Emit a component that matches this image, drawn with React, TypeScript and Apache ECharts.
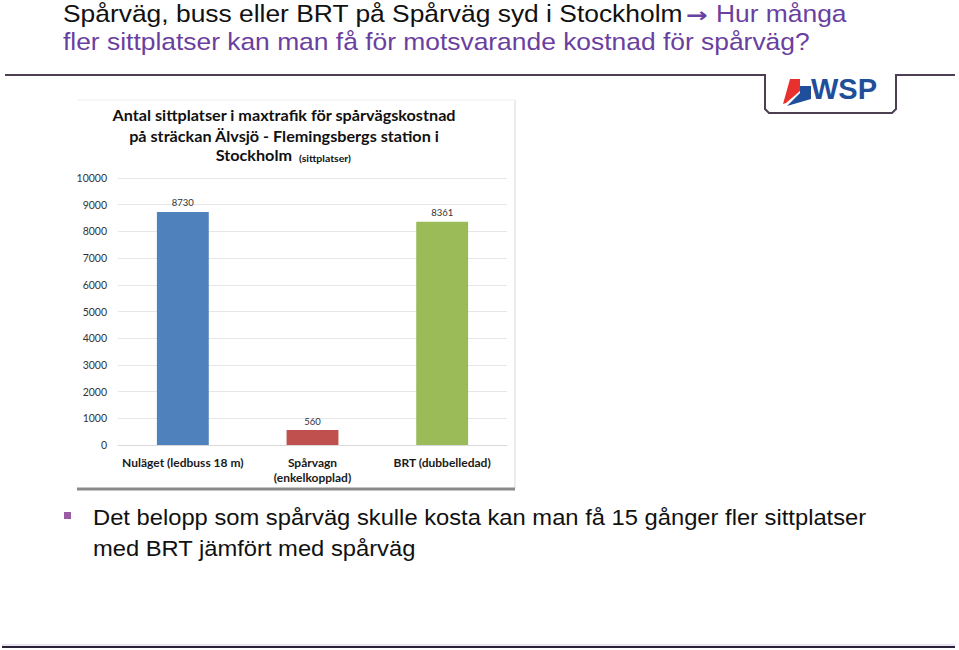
import React, { useEffect, useRef } from "react";
import * as echarts from "echarts";

const categories = ["Nuläget (ledbuss 18 m)", "Spårvagn\n(enkelkopplad)", "BRT (dubbelledad)"];
const seats = [8730, 560, 8361];
const barColors = ["#4F81BD", "#C0504D", "#9BBB59"];
const yTicks = { min: 0, max: 10000, interval: 1000 };

const slideTitle1 = "Spårväg, buss eller BRT på Spårväg syd i Stockholm";
const slideArrow = "→";
const slideTitle1b = "Hur många";
const slideTitle2 = "fler sittplatser kan man få för motsvarande kostnad för spårväg?";
const chartTitle = "Antal sittplatser i maxtrafik för spårvägskostnad\npå sträckan Älvsjö - Flemingsbergs station i";
const chartTitle3 = "Stockholm";
const chartTitle3b = "(sittplatser)";
const bullet1 = "Det belopp som spårväg skulle kosta kan man få 15 gånger fler sittplatser";
const bullet2 = "med BRT jämfört med spårväg";

const PURPLE = "#6B3FA0";
const LINE = "#4d3f52";

export default function App() {
  const ref = useRef<HTMLDivElement>(null);
  useEffect(() => {
    if (!ref.current) return;
    const chart = echarts.init(ref.current, null, { renderer: "svg" });
    chart.setOption({
      animation: false,
      backgroundColor: "#ffffff",
      grid: { left: 118, right: 452, top: 178, bottom: 205, containLabel: false },
      xAxis: {
        type: "category",
        data: categories,
        axisLine: { lineStyle: { color: "#d9d9d9", width: 1 } },
        axisTick: { show: false },
        axisLabel: {
          interval: 0,
          color: "#1a1a1a",
          fontFamily: "Lato",
          fontWeight: "bold",
          fontSize: 12,
          lineHeight: 15,
          margin: 10,
        },
      },
      yAxis: {
        type: "value",
        min: yTicks.min,
        max: yTicks.max,
        interval: yTicks.interval,
        axisLine: { show: false },
        axisTick: { show: false },
        splitLine: { lineStyle: { color: "#e6e6e6", width: 1 } },
        axisLabel: {
          color: "#333",
          fontFamily: "Lato",
          fontSize: 10.5,
          margin: 11,
          formatter: (v: number) => String(v),
        },
      },
      series: [
        {
          type: "bar",
          barWidth: "40%",
          data: seats.map((v, i) => ({ value: v, itemStyle: { color: barColors[i] } })),
          label: {
            show: true,
            position: "top",
            distance: 4,
            color: "#333",
            fontFamily: "Lato",
            fontSize: 9.5,
            formatter: (p: any) => String(p.value),
          },
        },
      ],
      graphic: [
        // slide title
        {
          type: "text",
          x: 63,
          y: 1,
          scaleX: 1.1,
          style: { text: slideTitle1, fontFamily: "Liberation Sans", fontSize: 24, fill: "#111" },
        },
        {
          type: "text",
          x: 697,
          y: 15,
          scaleX: 1.3,
          style: {
            text: slideArrow,
            align: "center",
            verticalAlign: "middle",
            fontFamily: "DejaVu Sans",
            fontWeight: "bold",
            fontSize: 20,
            fill: PURPLE,
          },
        },
        {
          type: "text",
          x: 716,
          y: 1,
          scaleX: 1.1,
          style: { text: slideTitle1b, fontFamily: "Liberation Sans", fontSize: 24, fill: PURPLE },
        },
        {
          type: "text",
          x: 63,
          y: 29,
          scaleX: 1.1,
          style: { text: slideTitle2, fontFamily: "Liberation Sans", fontSize: 24, fill: PURPLE },
        },
        // header rule with logo tab
        {
          type: "polyline",
          shape: {
            points: [
              [5, 75],
              [765, 75],
              [765, 109],
              [769, 113],
              [892, 113],
              [896, 109],
              [896, 75],
              [955, 75],
            ],
          },
          style: { stroke: LINE, lineWidth: 2, fill: null },
        },
        // WSP logo
        {
          type: "polygon",
          shape: { points: [[790, 79], [800, 79], [800, 91], [786, 103], [783, 104]] },
          style: { fill: "#E8312F" },
        },
        {
          type: "polygon",
          shape: { points: [[800, 86], [811, 86], [811, 99], [787, 106], [800, 93]] },
          style: { fill: "#1F4E9A" },
        },
        {
          type: "text",
          x: 811,
          y: 74,
          style: { text: "WSP", fontFamily: "Liberation Sans", fontWeight: "bold", fontSize: 29, fill: "#1F4E9A" },
        },
        // chart image frame
        {
          type: "line",
          shape: { x1: 77, y1: 100, x2: 515, y2: 100 },
          style: { stroke: "#eeeeee", lineWidth: 1 },
        },
        {
          type: "line",
          shape: { x1: 515, y1: 100, x2: 515, y2: 488 },
          style: { stroke: "#e6e6e6", lineWidth: 1.5 },
        },
        {
          type: "line",
          shape: { x1: 77, y1: 489, x2: 515, y2: 489 },
          style: { stroke: "#8a8a8a", lineWidth: 3 },
        },
        // chart title
        {
          type: "text",
          x: 284,
          y: 105,
          scaleX: 1.08,
          style: {
            text: chartTitle,
            align: "center",
            fontFamily: "Lato",
            fontWeight: "bold",
            fontSize: 15,
            lineHeight: 21,
            fill: "#111",
          },
        },
        {
          type: "text",
          x: 292,
          y: 148,
          scaleX: 1.08,
          style: {
            text: chartTitle3,
            align: "right",
            fontFamily: "Lato",
            fontWeight: "bold",
            fontSize: 15,
            fill: "#111",
          },
        },
        {
          type: "text",
          x: 299,
          y: 153,
          scaleX: 1.05,
          style: {
            text: chartTitle3b,
            fontFamily: "Lato",
            fontWeight: "bold",
            fontSize: 10,
            fill: "#111",
          },
        },
        // bullet
        {
          type: "rect",
          shape: { x: 64, y: 512, width: 7, height: 7 },
          style: { fill: "#9B5BA5" },
        },
        {
          type: "text",
          x: 93,
          y: 502,
          scaleX: 1.08,
          style: {
            text: bullet1 + "\n" + bullet2,
            fontFamily: "Liberation Sans",
            fontSize: 22,
            lineHeight: 31,
            fill: "#111",
          },
        },
        // bottom rule
        {
          type: "line",
          shape: { x1: 2, y1: 645, x2: 955, y2: 645 },
          style: { stroke: "#d9c9e6", lineWidth: 1 },
        },
        {
          type: "line",
          shape: { x1: 2, y1: 647, x2: 955, y2: 647 },
          style: { stroke: "#2b2338", lineWidth: 2 },
        },
      ],
    });
    return () => chart.dispose();
  }, []);
  return <div ref={ref} style={{ width: 959, height: 650, position: "absolute", left: 0, top: 0 }} />;
}
